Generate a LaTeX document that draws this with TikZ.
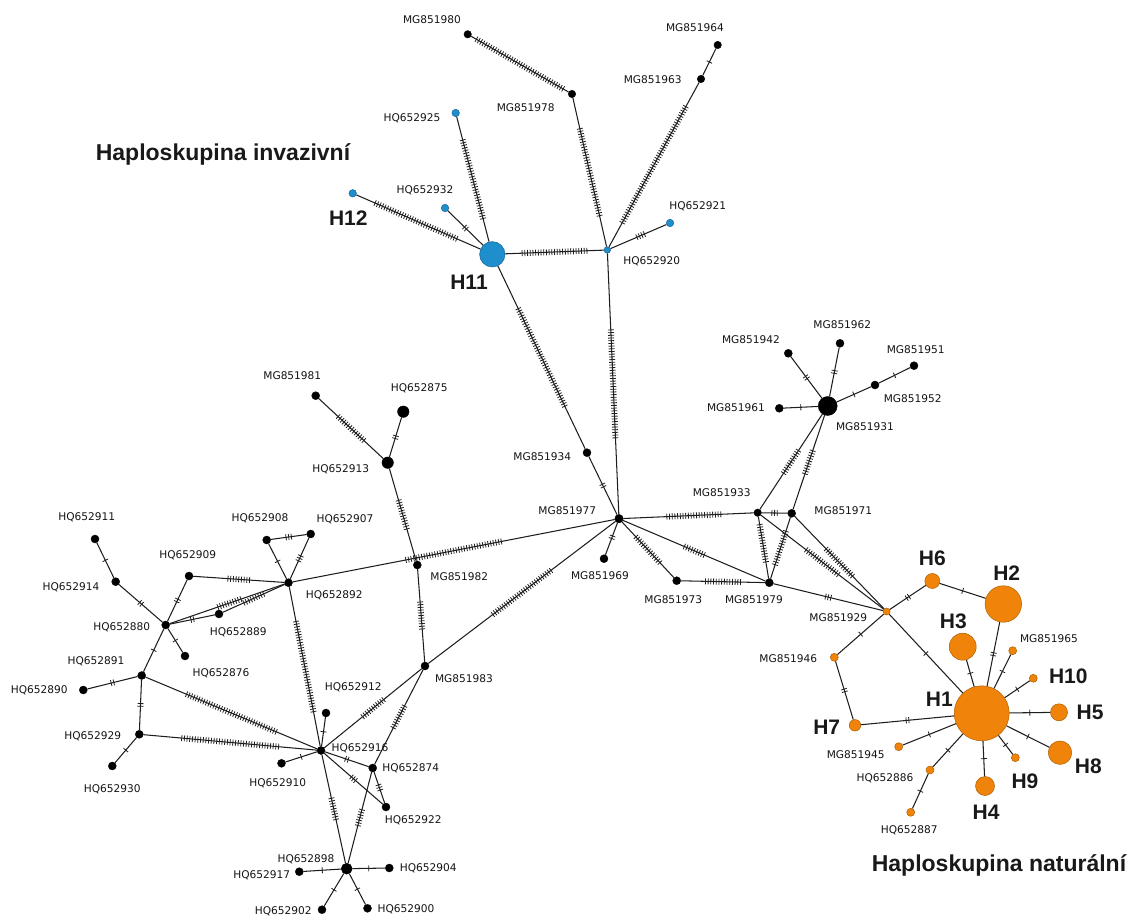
\documentclass[tikz,border=0pt]{standalone}
\usepackage{fontspec}
\setmainfont{Liberation Sans}
\newfontfamily\labfont{DejaVu Sans}
\usetikzlibrary{decorations.markings}
\definecolor{lnc}{RGB}{30,30,30}
\definecolor{blf}{RGB}{30,142,204}
\definecolor{bld}{RGB}{20,100,150}
\definecolor{orf}{RGB}{240,132,10}
\definecolor{ord}{RGB}{175,95,0}
\tikzset{
 lnk/.style={draw=lnc, line width=1.05pt},
 tk/.style 2 args={postaction={decorate,decoration={markings,mark=at position #1 with {\foreach \k in {1,...,#2}{\draw[lnc,line width=0.8pt] ({(\k-(#2+1)/2)*2.7},-3) -- ({(\k-(#2+1)/2)*2.7},3);}}}}},
 vx/.style={circle, inner sep=0pt, minimum size=#1},
 bk/.style={vx=#1, fill=black, draw=black, line width=0.4pt},
 bl/.style={vx=#1, fill=blf, draw=bld, line width=0.5pt},
 og/.style={vx=#1, fill=orf, draw=ord, line width=0.5pt},
 lab/.style={font=\labfont\fontsize{10.6}{12}\selectfont, inner sep=0pt, text=black!92},
 hl/.style={font=\bfseries\fontsize{21}{24}\selectfont, inner sep=0pt, text=black!90},
 ttl/.style={font=\bfseries\fontsize{23}{26}\selectfont, inner sep=0pt, text=black!90},
}
\newcommand\edg[4][0.5]{\draw[lnk,tk={#1}{#4}] (#2) -- (#3);}
\begin{document}
\begin{tikzpicture}[x=1pt,y=-1pt]
\useasboundingbox (0,0) rectangle (1133,917);
% blue nodes
\node[bl=25.4] (H11) at (492.3,254.3) {};
\node[bl=7.5] (H12) at (352.7,193.3) {};
\node[bl=7.5] (HQ652932) at (445,208) {};
\node[bl=7.5] (HQ652925) at (455.7,113) {};
\node[bl=7.5] (HQ652921) at (670,223) {};
\node[bl=6.5] (HQ652920) at (607.3,250) {};
% black nodes
\node[bk=7.5] (MG851980) at (467.7,34.3) {};
\node[bk=7.5] (MG851978) at (572,94) {};
\node[bk=7.5] (MG851964) at (717.7,45) {};
\node[bk=7.5] (MG851963) at (701,79) {};
\node[bk=8] (MG851934) at (587,452.7) {};
\node[bk=8.5] (MG851977) at (619,518.7) {};
\node[bk=8] (MG851969) at (604,558.7) {};
\node[bk=8] (MG851973) at (676.7,580.7) {};
\node[bk=7.5] (MG851933) at (757.7,512.7) {};
\node[bk=8] (MG851971) at (791.7,513.3) {};
\node[bk=8] (MG851979) at (769.3,582.7) {};
\node[bk=19] (MG851931) at (827.7,406) {};
\node[bk=8] (MG851942) at (788.3,353.3) {};
\node[bk=8] (MG851962) at (840,343.3) {};
\node[bk=8] (MG851951) at (914,365.7) {};
\node[bk=8] (MG851952) at (875,385) {};
\node[bk=8] (MG851961) at (779.3,408.3) {};
\node[bk=8] (MG851981) at (315.7,395.7) {};
\node[bk=11.5] (HQ652875) at (403.3,411.7) {};
\node[bk=11.5] (HQ652913) at (387.7,462.7) {};
\node[bk=8] (MG851982) at (417.3,565) {};
\node[bk=8] (MG851983) at (425,666) {};
\node[bk=8] (HQ652911) at (95,539) {};
\node[bk=8] (HQ652914) at (115.7,581.7) {};
\node[bk=8] (HQ652909) at (189,576) {};
\node[bk=8] (HQ652908) at (266.7,540) {};
\node[bk=8] (HQ652907) at (310.7,534) {};
\node[bk=8] (HQ652892) at (288.5,582.7) {};
\node[bk=8] (HQ652880) at (165.7,625) {};
\node[bk=8] (HQ652889) at (219,614) {};
\node[bk=8] (HQ652876) at (185,656) {};
\node[bk=8] (HQ652891) at (141.7,675.5) {};
\node[bk=8] (HQ652890) at (83.3,690) {};
\node[bk=8] (HQ652929) at (139.3,734.3) {};
\node[bk=8] (HQ652930) at (112.3,766) {};
\node[bk=8] (HQ652916) at (321,750.5) {};
\node[bk=8] (HQ652912) at (326,713) {};
\node[bk=8] (HQ652910) at (281.5,763.3) {};
\node[bk=8] (HQ652874) at (372.7,768) {};
\node[bk=8] (HQ652922) at (386,807) {};
\node[bk=11] (HQ652898) at (346.7,868.7) {};
\node[bk=8] (HQ652917) at (299.3,871.7) {};
\node[bk=8] (HQ652904) at (389.3,868) {};
\node[bk=8] (HQ652902) at (322,909.7) {};
\node[bk=8] (HQ652900) at (367.5,908.3) {};
% orange nodes
\node[og=7] (MG851929) at (886.7,611.5) {};
\node[og=15] (H6) at (932.3,581) {};
\node[og=36.5] (H2) at (1003.3,604) {};
\node[og=27] (H3) at (962.7,646.7) {};
\node[og=8] (MG851965) at (1012.7,650.7) {};
\node[og=8] (MG851946) at (834.3,657.3) {};
\node[og=8] (H10) at (1033.3,678.3) {};
\node[og=55] (H1) at (981.7,713.3) {};
\node[og=17] (H5) at (1059,712.3) {};
\node[og=11.5] (H7) at (855,725.3) {};
\node[og=8] (MG851945) at (898.7,746.7) {};
\node[og=23.5] (H8) at (1060,752.7) {};
\node[og=8] (H9) at (1015.3,757.7) {};
\node[og=8] (HQ652886) at (930,770) {};
\node[og=19] (H4) at (985,786) {};
\node[og=8] (HQ652887) at (910.7,812.3) {};
% edges: top / blue
\edg{MG851980}{MG851978}{38}
\edg{MG851978}{HQ652920}{34}
\edg{MG851963}{HQ652920}{50}
\edg{MG851963}{MG851964}{1}
\edg[0.54]{HQ652920}{HQ652921}{4}
\edg{H11}{HQ652920}{25}
\edg{HQ652925}{H11}{31}
\edg{H11}{HQ652932}{2}
\edg[0.48]{H12}{H11}{34}
\edg{H11}{MG851934}{41}
\edg{MG851934}{MG851977}{2}
\edg{HQ652920}{MG851977}{41}
% centre
\edg[0.45]{MG851977}{MG851969}{2}
\edg{MG851977}{MG851973}{14}
\edg{MG851973}{MG851979}{14}
\edg{MG851977}{MG851979}{9}
\edg[0.54]{MG851977}{MG851933}{21}
\edg{MG851933}{MG851971}{3}
\edg[0.43]{MG851933}{MG851979}{15}
\edg{MG851971}{MG851979}{14}
\edg{MG851933}{MG851931}{11}
\edg{MG851971}{MG851931}{10}
\edg{MG851933}{MG851929}{16}
\edg{MG851971}{MG851929}{15}
\edg{MG851979}{MG851929}{3}
\edg{MG851931}{MG851942}{2}
\edg{MG851931}{MG851962}{2}
\edg{MG851931}{MG851961}{1}
\edg{MG851931}{MG851952}{1}
\edg{MG851952}{MG851951}{1}
% orange
\edg{MG851929}{H6}{2}
\edg{H6}{H2}{1}
\edg{MG851929}{MG851946}{1}
\edg{MG851946}{H7}{2}
\edg{H7}{H1}{2}
\edg{MG851929}{H1}{1}
\edg{H1}{H3}{1}
\edg{H1}{H2}{2}
\edg{H1}{MG851965}{1}
\edg{H1}{H10}{1}
\edg{H1}{H5}{1}
\edg{H1}{H8}{1}
\edg{H1}{H9}{1}
\edg{H1}{H4}{1}
\edg{H1}{MG851945}{1}
\edg{H1}{HQ652886}{1}
\edg{HQ652886}{HQ652887}{1}
% left
\edg{MG851981}{HQ652913}{14}
\edg{HQ652913}{HQ652875}{2}
\edg{HQ652913}{MG851982}{12}
\edg{HQ652892}{MG851977}{37}
\edg{MG851982}{MG851983}{11}
\edg{MG851977}{MG851983}{28}
\edg{MG851983}{HQ652916}{11}
\edg{MG851983}{HQ652874}{10}
\edg{HQ652916}{HQ652874}{2}
\edg{HQ652874}{HQ652922}{3}
\edg{HQ652916}{HQ652922}{3}
\edg{HQ652916}{HQ652912}{1}
\edg{HQ652916}{HQ652910}{1}
\edg{HQ652916}{HQ652898}{9}
\edg{HQ652874}{HQ652898}{7}
\edg{HQ652898}{HQ652917}{1}
\edg{HQ652898}{HQ652904}{1}
\edg{HQ652898}{HQ652902}{1}
\edg{HQ652898}{HQ652900}{1}
\edg{HQ652892}{HQ652916}{35}
\edg{HQ652891}{HQ652916}{37}
\edg{HQ652929}{HQ652916}{37}
\edg{HQ652891}{HQ652929}{2}
\edg{HQ652891}{HQ652890}{2}
\edg{HQ652929}{HQ652930}{1}
\edg{HQ652880}{HQ652891}{1}
\edg{HQ652880}{HQ652876}{1}
\edg{HQ652880}{HQ652914}{2}
\edg{HQ652914}{HQ652911}{1}
\edg{HQ652880}{HQ652909}{2}
\edg{HQ652880}{HQ652889}{2}
\edg{HQ652909}{HQ652892}{9}
\edg[0.52]{HQ652880}{HQ652892}{10}
\edg{HQ652889}{HQ652892}{9}
\edg{HQ652892}{HQ652908}{1}
\edg{HQ652892}{HQ652907}{3}
\edg{HQ652908}{HQ652907}{3}
% labels
\node[lab] (lMG851980) at (432,20) {MG851980};
\node[lab] (lMG851964) at (695,28) {MG851964};
\node[lab] (lMG851963) at (652.7,80) {MG851963};
\node[lab] (lMG851978) at (525.7,108) {MG851978};
\node[lab] (lHQ652925) at (412,118) {HQ652925};
\node[lab] (lHQ652932) at (425,190) {HQ652932};
\node[lab] (lHQ652921) at (697.7,206) {HQ652921};
\node[lab] (lHQ652920) at (651.7,261.7) {HQ652920};
\node[lab] (lMG851981) at (292.3,376) {MG851981};
\node[lab] (lHQ652875) at (419.3,388.3) {HQ652875};
\node[lab] (lHQ652913) at (340.7,469.3) {HQ652913};
\node[lab] (lMG851934) at (542.3,456.7) {MG851934};
\node[lab] (lMG851977) at (567.3,511) {MG851977};
\node[lab] (lMG851982) at (459.3,576.7) {MG851982};
\node[lab] (lMG851969) at (600,576) {MG851969};
\node[lab] (lMG851973) at (673.3,600) {MG851973};
\node[lab] (lMG851933) at (721.7,492.7) {MG851933};
\node[lab] (lMG851979) at (754,600) {MG851979};
\node[lab] (lMG851971) at (843.3,511) {MG851971};
\node[lab] (lMG851942) at (751,340) {MG851942};
\node[lab] (lMG851962) at (842.3,325) {MG851962};
\node[lab] (lMG851951) at (915.7,349.3) {MG851951};
\node[lab] (lMG851952) at (912.7,398.3) {MG851952};
\node[lab] (lMG851931) at (865,426.7) {MG851931};
\node[lab] (lMG851961) at (736,408) {MG851961};
\node[lab] (lHQ652911) at (86.7,517.3) {HQ652911};
\node[lab] (lHQ652914) at (71,587.3) {HQ652914};
\node[lab] (lHQ652909) at (187.7,555) {HQ652909};
\node[lab] (lHQ652908) at (260,518.3) {HQ652908};
\node[lab] (lHQ652907) at (345,519.3) {HQ652907};
\node[lab] (lHQ652892) at (334.3,595) {HQ652892};
\node[lab] (lHQ652880) at (121.7,627.3) {HQ652880};
\node[lab] (lHQ652889) at (238.3,632.3) {HQ652889};
\node[lab] (lHQ652876) at (221,673.3) {HQ652876};
\node[lab] (lHQ652891) at (96,661.7) {HQ652891};
\node[lab] (lHQ652890) at (39.3,690.7) {HQ652890};
\node[lab] (lHQ652929) at (92.7,736) {HQ652929};
\node[lab] (lHQ652930) at (112.3,789) {HQ652930};
\node[lab] (lHQ652912) at (353.3,687.3) {HQ652912};
\node[lab] (lHQ652916) at (360,748.3) {HQ652916};
\node[lab] (lHQ652910) at (277.7,783.3) {HQ652910};
\node[lab] (lHQ652874) at (410.7,768.3) {HQ652874};
\node[lab] (lHQ652922) at (413.3,820.7) {HQ652922};
\node[lab] (lHQ652898) at (306,859.3) {HQ652898};
\node[lab] (lHQ652917) at (261.7,875.3) {HQ652917};
\node[lab] (lHQ652904) at (428.3,868.3) {HQ652904};
\node[lab] (lHQ652902) at (283.3,911.7) {HQ652902};
\node[lab] (lHQ652900) at (406,909.3) {HQ652900};
\node[lab] (lMG851983) at (464,678.3) {MG851983};
\node[lab] (lMG851929) at (838.3,617.3) {MG851929};
\node[lab] (lMG851946) at (788.3,658.3) {MG851946};
\node[lab] (lMG851965) at (1049,638.3) {MG851965};
\node[lab] (lMG851945) at (855.7,754.3) {MG851945};
\node[lab] (lHQ652886) at (885,778.3) {HQ652886};
\node[lab] (lHQ652887) at (909.3,830) {HQ652887};
% haplotype labels
\node[hl] (lH11) at (469,282.7) {H11};
\node[hl] (lH12) at (348.3,218.3) {H12};
\node[hl] (lH6) at (932.3,558.3) {H6};
\node[hl] (lH2) at (1006.7,573.3) {H2};
\node[hl] (lH3) at (953.3,621.7) {H3};
\node[hl] (lH10) at (1068.3,676) {H10};
\node[hl] (lH1) at (939.3,699.3) {H1};
\node[hl] (lH5) at (1090,712.3) {H5};
\node[hl] (lH7) at (826.7,727.7) {H7};
\node[hl] (lH8) at (1088.3,766.7) {H8};
\node[hl] (lH9) at (1025,781.7) {H9};
\node[hl] (lH4) at (986,812.7) {H4};
% titles
\node[ttl] (tinv) at (223,154) {Haploskupina invazivní};
\node[ttl] (tnat) at (999,865.5) {Haploskupina naturální};
\end{tikzpicture}
\end{document}
